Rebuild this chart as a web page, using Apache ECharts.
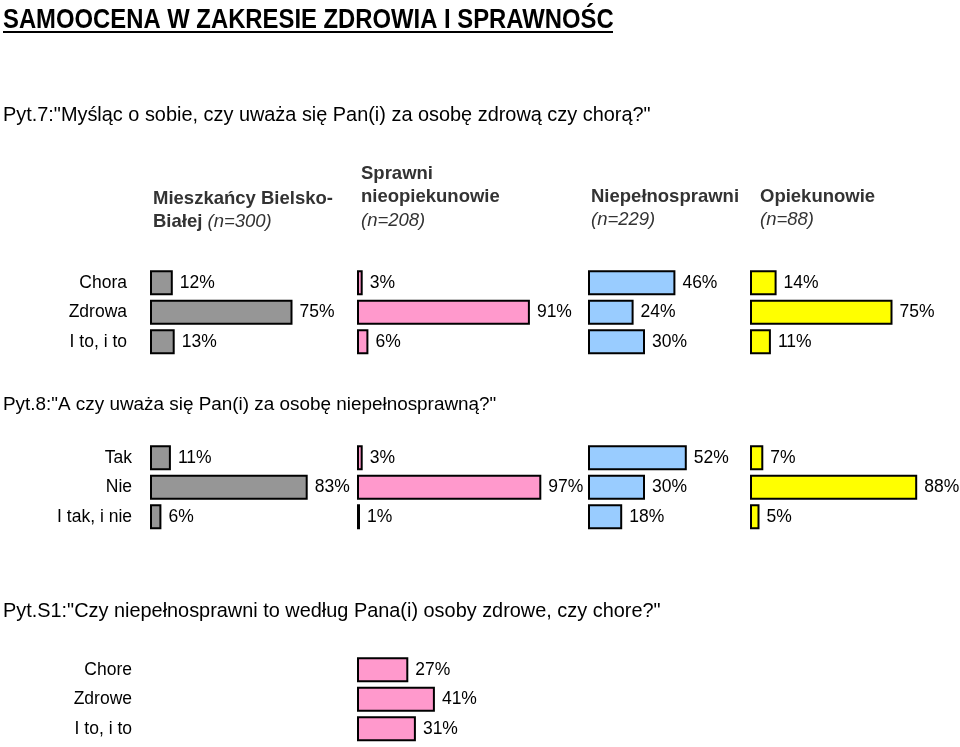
<!DOCTYPE html>
<html>
<head>
<meta charset="utf-8">
<script src="https://cdn.jsdelivr.net/npm/echarts@6/dist/echarts.min.js"></script>
<style>
html,body{margin:0;padding:0;background:#fff;}
#main{width:960px;height:747px;}
</style>
</head>
<body>
<div id="main"></div>
<script>
// ---- data ----
const pyt7Categories = ['Chora', 'Zdrowa', 'I to, i to'];
const pyt7Mieszkancy = [12, 75, 13];
const pyt7Sprawni = [3, 91, 6];
const pyt7Niepelnosprawni = [46, 24, 30];
const pyt7Opiekunowie = [14, 75, 11];

const pyt8Categories = ['Tak', 'Nie', 'I tak, i nie'];
const pyt8Mieszkancy = [11, 83, 6];
const pyt8Sprawni = [3, 97, 1];
const pyt8Niepelnosprawni = [52, 30, 18];
const pyt8Opiekunowie = [7, 88, 5];

const s1Categories = ['Chore', 'Zdrowe', 'I to, i to'];
const s1Sprawni = [27, 41, 31];

const titleText = 'SAMOOCENA W ZAKRESIE ZDROWIA I SPRAWNOŚC';
const q7Text = 'Pyt.7:"Myśląc o sobie, czy uważa się Pan(i) za osobę zdrową czy chorą?"';
const q8Text = 'Pyt.8:"A czy uważa się Pan(i) za osobę niepełnosprawną?"';
const s1Text = 'Pyt.S1:"Czy niepełnosprawni to według Pana(i) osoby zdrowe, czy chore?"';

// ---- styles / layout ----
const FONT = '"Liberation Sans", Arial, sans-serif';
const colors = { mieszkancy: '#969696', sprawni: '#FF99CC', niepelno: '#99CCFF', opiekunowie: '#FFFF00' };
const colLeft = { mieszkancy: 150, sprawni: 357, niepelno: 588, opiekunowie: 750 };
const rowTop = { q7: 268, q8: 443, s1: 655 };
const GRID_W = 190, GRID_H = 88.5;

const panels = [
  { row: 'q7', col: 'mieszkancy', cats: pyt7Categories, data: pyt7Mieszkancy, showCats: true, margin: 23 },
  { row: 'q7', col: 'sprawni', cats: pyt7Categories, data: pyt7Sprawni },
  { row: 'q7', col: 'niepelno', cats: pyt7Categories, data: pyt7Niepelnosprawni },
  { row: 'q7', col: 'opiekunowie', cats: pyt7Categories, data: pyt7Opiekunowie },
  { row: 'q8', col: 'mieszkancy', cats: pyt8Categories, data: pyt8Mieszkancy, showCats: true, margin: 18 },
  { row: 'q8', col: 'sprawni', cats: pyt8Categories, data: pyt8Sprawni },
  { row: 'q8', col: 'niepelno', cats: pyt8Categories, data: pyt8Niepelnosprawni },
  { row: 'q8', col: 'opiekunowie', cats: pyt8Categories, data: pyt8Opiekunowie },
  { row: 's1', col: 'sprawni', cats: s1Categories, data: s1Sprawni, showCats: true, margin: 225 }
];

const grid = [], xAxis = [], yAxis = [], series = [];
panels.forEach((p, i) => {
  grid.push({ left: colLeft[p.col], top: rowTop[p.row], width: GRID_W, height: GRID_H, containLabel: false });
  xAxis.push({ type: 'value', gridIndex: i, min: 0, max: 100, show: false });
  yAxis.push({
    type: 'category', gridIndex: i, data: p.cats, inverse: true,
    axisLine: { show: false }, axisTick: { show: false }, splitLine: { show: false },
    axisLabel: { show: !!p.showCats, margin: p.margin || 8, color: '#000', fontSize: 17.5, fontFamily: FONT }
  });
  series.push({
    type: 'bar', xAxisIndex: i, yAxisIndex: i, data: p.data, barWidth: 25, barMinHeight: 3,
    itemStyle: { color: colors[p.col], borderColor: '#000', borderWidth: 2 },
    label: { show: true, position: 'right', distance: 7, formatter: '{c}%', color: '#000', fontSize: 17.5, fontFamily: FONT },
    animation: false, silent: true
  });
});

const HF = 18.5, HL = 23.5;
const headerStyle = {
  fontFamily: FONT, fontSize: HF, fill: '#333', lineHeight: HL,
  rich: {
    b: { fontFamily: FONT, fontSize: HF, fontWeight: 'bold', fill: '#333', lineHeight: HL },
    i: { fontFamily: FONT, fontSize: HF, fontStyle: 'italic', fill: '#333', lineHeight: HL }
  }
};
function header(x, yTop, text) {
  return { type: 'text', left: x, top: yTop, style: Object.assign({ text: text }, headerStyle) };
}

const graphic = [
  { type: 'text', x: 3, y: 7, scaleX: 0.883, style: { text: titleText, fontFamily: FONT, fontSize: 27, fontWeight: 'bold', fill: '#000' } },
  { type: 'rect', left: 3, top: 31, shape: { width: 610, height: 2 }, style: { fill: '#000' } },
  { type: 'text', left: 3, top: 106, style: { text: q7Text, fontFamily: FONT, fontSize: 19.9, fill: '#000' } },
  { type: 'text', left: 3, top: 395, style: { text: q8Text, fontFamily: FONT, fontSize: 18.9, fill: '#000' } },
  { type: 'text', left: 3, top: 602, style: { text: s1Text, fontFamily: FONT, fontSize: 19.9, fill: '#000' } },
  header(153, 187, '{b|Mieszkańcy Bielsko-}\n{b|Białej} {i|(n=300)}'),
  header(361, 162, '{b|Sprawni}\n{b|nieopiekunowie}\n{i|(n=208)}'),
  header(591, 185, '{b|Niepełnosprawni}\n{i|(n=229)}'),
  header(760, 185, '{b|Opiekunowie}\n{i|(n=88)}')
];

const chart = echarts.init(document.getElementById('main'), null, { renderer: 'canvas' });
chart.setOption({ animation: false, backgroundColor: '#fff', grid, xAxis, yAxis, series, graphic });
</script>
</body>
</html>
